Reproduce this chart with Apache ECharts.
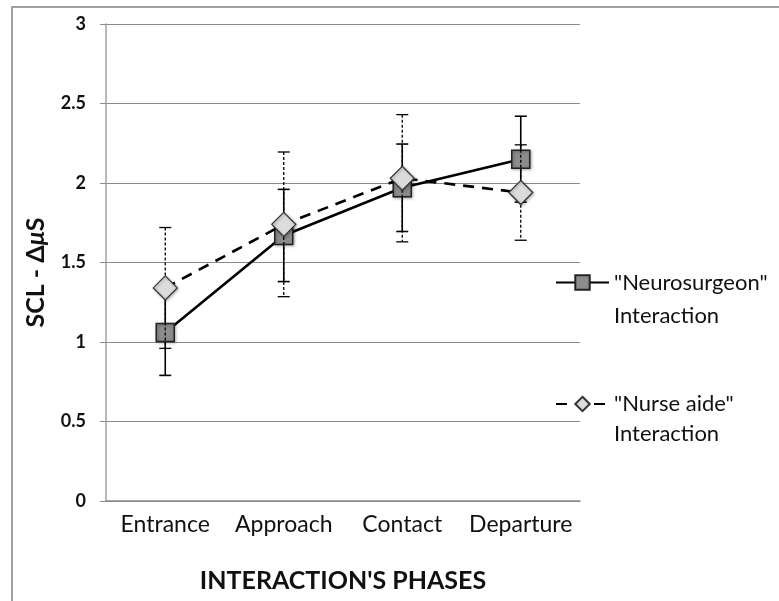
<!DOCTYPE html>
<html>
<head>
<meta charset="utf-8">
<script src="https://cdn.jsdelivr.net/npm/echarts@6/dist/echarts.min.js"></script>
<style>
  html, body { margin: 0; padding: 0; background: #fff; }
  #chart { width: 779px; height: 601px; }
</style>
</head>
<body>
<div id="chart"></div>
<script>
// phases on the x axis
const phases = ['Entrance', 'Approach', 'Contact', 'Departure'];
// mean SCL change and error (+/-)
const neuroMean = [1.06, 1.67, 1.97, 2.15];
const neuroErr = [0.27, 0.29, 0.275, 0.27];
const nurseMean = [1.34, 1.74, 2.03, 1.94];
const nurseErr = [0.38, 0.455, 0.40, 0.30];
const yTicks = [0, 0.5, 1, 1.5, 2, 2.5, 3];

const font = 'Lato, "Open Sans", sans-serif';

const errData = (mean, err) => mean.map((m, i) => [i, m - err[i], m + err[i]]);

const errorBars = (dash, width) => (params, api) => {
  const x = api.value(0);
  const lo = api.coord([x, api.value(1)]);
  const hi = api.coord([x, api.value(2)]);
  const cap = 6;
  const style = {stroke: '#000', lineWidth: width, lineDash: dash};
  return {
    type: 'group',
    children: [
      {type: 'line', shape: {x1: hi[0], y1: hi[1], x2: lo[0], y2: lo[1]}, style},
      {type: 'line', shape: {x1: hi[0] - cap, y1: hi[1], x2: hi[0] + cap, y2: hi[1]}, style: {stroke: '#000', lineWidth: width}},
      {type: 'line', shape: {x1: lo[0] - cap, y1: lo[1], x2: lo[0] + cap, y2: lo[1]}, style: {stroke: '#000', lineWidth: width}}
    ]
  };
};

const chart = echarts.init(document.getElementById('chart'));
chart.setOption({
  animation: false,
  graphic: [
    {
      type: 'rect',
      shape: {x: 12, y: 7, width: 800, height: 620},
      style: {fill: 'none', stroke: '#a0a0a0', lineWidth: 2},
      silent: true
    }
  ],
  grid: {left: 106, right: 199, top: 24, bottom: 100},
  legend: {
    orient: 'vertical',
    left: 555,
    top: 233,
    padding: 0,
    itemGap: 27,
    itemWidth: 53,
    itemHeight: 18,
    data: [
      '"Neurosurgeon"\nInteraction',
      {name: '"Nurse aide"\nInteraction', textStyle: {lineHeight: 30}}
    ],
    // blank first line so the icon sits beside the first text line
    formatter: name => '\n' + name,
    textStyle: {
      fontFamily: font,
      fontSize: 22,
      color: '#111',
      lineHeight: 33
    }
  },
  xAxis: {
    type: 'category',
    data: phases,
    name: "INTERACTION'S PHASES",
    nameLocation: 'middle',
    nameGap: 67,
    nameTextStyle: {fontFamily: font, fontSize: 25, fontWeight: 'bold', color: '#111'},
    axisLine: {lineStyle: {color: '#8a8a8a', width: 1.5}},
    axisTick: {show: false},
    axisLabel: {fontFamily: font, fontSize: 23, color: '#111', margin: 12, interval: 0}
  },
  yAxis: {
    type: 'value',
    min: 0,
    max: 3,
    interval: 0.5,
    name: '{a|SCL - Δ}{b|μ}{a|S}',
    nameLocation: 'middle',
    nameGap: 58,
    nameTextStyle: {
      padding: [0, 20, 0, 0],
      rich: {
        a: {fontFamily: font, fontSize: 25, fontWeight: 'bold', color: '#111'},
        b: {fontFamily: font, fontSize: 25, fontWeight: 'bold', fontStyle: 'italic', color: '#111'}
      }
    },
    axisLine: {show: true, lineStyle: {color: '#a0a0a0', width: 1.5}},
    axisTick: {show: true, length: 6, lineStyle: {color: '#8a8a8a'}},
    axisLabel: {
      fontFamily: font, fontSize: 18, fontWeight: 'bold', color: '#111', margin: 20,
      formatter: v => (yTicks.includes(v) ? String(v) : '')
    },
    splitLine: {lineStyle: {color: '#8a8a8a', width: 1.2}}
  },
  series: [
    {
      type: 'custom',
      name: 'neuroErr',
      renderItem: errorBars(null, 1.6),
      data: errData(neuroMean, neuroErr),
      encode: {x: 0, y: [1, 2]},
      z: 2
    },
    {
      type: 'line',
      name: '"Neurosurgeon"\nInteraction',
      data: neuroMean,
      symbol: 'rect',
      symbolSize: 18,
      lineStyle: {color: '#000', width: 2.6},
      itemStyle: {color: '#8c8c8c', borderColor: '#222', borderWidth: 1.5, shadowBlur: 3, shadowColor: 'rgba(0,0,0,0.35)', shadowOffsetX: 1, shadowOffsetY: 1},
      z: 3
    },
    {
      type: 'custom',
      name: 'nurseErr',
      renderItem: errorBars([3, 2], 1.3),
      data: errData(nurseMean, nurseErr),
      encode: {x: 0, y: [1, 2]},
      z: 4
    },
    {
      type: 'line',
      name: '"Nurse aide"\nInteraction',
      data: nurseMean,
      symbol: 'diamond',
      symbolSize: 24,
      lineStyle: {color: '#000', width: 2.6, type: [11, 8]},
      itemStyle: {color: '#dcdcdc', borderColor: '#333', borderWidth: 1.2, shadowBlur: 3, shadowColor: 'rgba(0,0,0,0.3)', shadowOffsetX: 1, shadowOffsetY: 1},
      z: 5
    }
  ]
});
</script>
</body>
</html>
